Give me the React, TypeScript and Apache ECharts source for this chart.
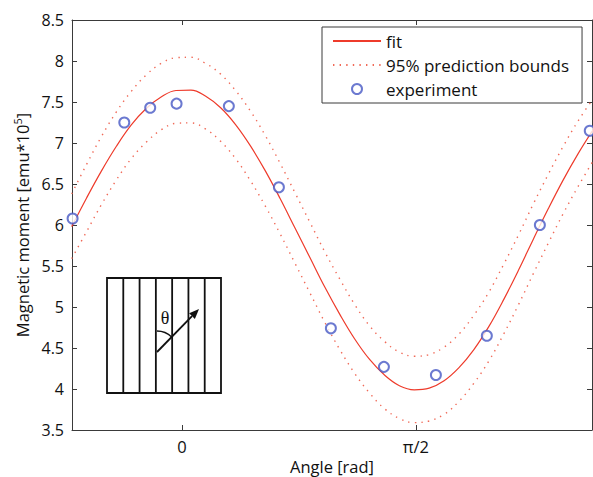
import React, { useEffect, useRef } from "react";
import * as echarts from "echarts";

// ---- data ----
const angleSamples = [
  -0.74, -0.64, -0.54, -0.44, -0.34, -0.24, -0.14, -0.04, 0.06, 0.16, 0.26, 0.36,
  0.46, 0.56, 0.66, 0.76, 0.86, 0.96, 1.06, 1.16, 1.26, 1.36, 1.46, 1.56, 1.66,
  1.76, 1.86, 1.96, 2.06, 2.16, 2.26, 2.36, 2.46, 2.56, 2.66, 2.76,
];
const fitValues = [
  5.98, 6.33, 6.66, 6.96, 7.22, 7.42, 7.56, 7.64, 7.645, 7.57, 7.43, 7.225,
  6.965, 6.66, 6.32, 5.96, 5.6, 5.24, 4.91, 4.61, 4.36, 4.17, 4.04, 3.99, 4.01,
  4.1, 4.26, 4.48, 4.76, 5.09, 5.45, 5.83, 6.2, 6.55, 6.87, 7.16,
];
const upperBound = [
  6.38, 6.74, 7.08, 7.38, 7.63, 7.83, 7.97, 8.04, 8.045, 7.97, 7.84, 7.64,
  7.39, 7.09, 6.75, 6.39, 6.03, 5.67, 5.34, 5.03, 4.77, 4.58, 4.45, 4.4, 4.42,
  4.51, 4.67, 4.9, 5.18, 5.52, 5.88, 6.26, 6.62, 6.96, 7.27, 7.54,
];
const lowerBound = [
  5.59, 5.92, 6.25, 6.55, 6.81, 7.01, 7.16, 7.24, 7.245, 7.17, 7.02, 6.81,
  6.54, 6.23, 5.89, 5.53, 5.17, 4.81, 4.48, 4.19, 3.95, 3.76, 3.64, 3.59, 3.61,
  3.69, 3.85, 4.07, 4.34, 4.67, 5.03, 5.41, 5.78, 6.14, 6.47, 6.78,
];
const expAngles = [-0.734, -0.387, -0.213, -0.036, 0.315, 0.651, 1.0, 1.356, 1.705, 2.047, 2.403, 2.738];
const expValues = [6.08, 7.25, 7.43, 7.48, 7.45, 6.46, 4.74, 4.27, 4.17, 4.65, 6.0, 7.15];

const xTickValues = [0, Math.PI / 2];
const xTickLabels = ["0", "π/2"];
const seriesNames = ["fit", "95% prediction bounds", "experiment"];

const FONT = "'Open Sans', 'Noto Sans', sans-serif";
const RED = "#ee3b2b";
const DOT_RED = "#f06a58";
const BLUE = "#4658c4";
const AXIS = "#3a3a3a";

const xLabelFor = (v: number) => {
  for (let i = 0; i < xTickValues.length; i++) {
    if (Math.abs(v - xTickValues[i]) < 1e-6) return xTickLabels[i];
  }
  return "";
};

export default function App() {
  const ref = useRef<HTMLDivElement>(null);
  useEffect(() => {
    if (!ref.current) return;
    const chart = echarts.init(ref.current, null, { renderer: "svg" });
    const pair = (xs: number[], ys: number[]) => xs.map((x, i) => [x, ys[i]]);

    const xMin = -0.738;
    const xMax = 2.753;

    // inset geometry
    const bx = 107, by = 278, bw = 114, bh = 115;
    const stripes = 7;
    const ox = 157, oy = 352, tx = 199, ty = 309;
    const dx = tx - ox, dy = ty - oy;
    const len = Math.sqrt(dx * dx + dy * dy);
    const ux = dx / len, uy = dy / len;
    const nx = -uy, ny = ux;
    const headL = 10, headW = 4;
    const baseX = tx - headL * ux, baseY = ty - headL * uy;

    const insetChildren: any[] = [
      {
        type: "rect",
        shape: { x: bx, y: by, width: bw, height: bh },
        style: { fill: "none", stroke: "#111", lineWidth: 1.8 },
      },
    ];
    for (let k = 1; k < stripes; k++) {
      const xx = bx + (bw * k) / stripes;
      insetChildren.push({
        type: "line",
        shape: { x1: xx, y1: by, x2: xx, y2: by + bh },
        style: { stroke: "#111", lineWidth: 1.8 },
      });
    }
    insetChildren.push(
      {
        type: "line",
        shape: { x1: ox, y1: oy, x2: baseX, y2: baseY },
        style: { stroke: "#111", lineWidth: 1.8 },
      },
      {
        type: "polygon",
        shape: {
          points: [
            [tx, ty],
            [baseX + headW * nx, baseY + headW * ny],
            [baseX - headW * nx, baseY - headW * ny],
          ],
        },
        style: { fill: "#111" },
      },
      {
        type: "arc",
        shape: { cx: ox, cy: oy, r: 21, startAngle: -Math.PI / 2, endAngle: Math.atan2(dy, dx), clockwise: true },
        style: { stroke: "#111", lineWidth: 1.4, fill: "none" },
      },
      {
        type: "text",
        x: 165,
        y: 318,
        style: {
          text: "θ",
          fontFamily: "'Liberation Serif', 'DejaVu Serif', serif",
          fontSize: 18,
          fill: "#111",
          align: "center",
          verticalAlign: "middle",
        },
      }
    );

    const baseAxisX = {
      type: "value",
      min: xMin,
      max: xMax,
      axisLine: { show: true, onZero: false, lineStyle: { color: AXIS, width: 1 } },
      splitLine: { show: false },
    };
    const baseAxisY = {
      type: "value",
      min: 3.5,
      max: 8.5,
      interval: 0.5,
      axisLine: { show: true, onZero: false, lineStyle: { color: AXIS, width: 1 } },
      splitLine: { show: false },
    };

    chart.setOption({
      animation: false,
      backgroundColor: "#fff",
      textStyle: { fontFamily: FONT },
      grid: { left: 72, top: 20, width: 520, height: 410, containLabel: false, outerBoundsMode: "none" },
      legend: {
        left: 322,
        top: 27,
        orient: "vertical",
        itemWidth: 48,
        itemHeight: 10,
        itemGap: 4,
        padding: [4, 13, 4, 10],
        borderColor: AXIS,
        borderWidth: 1,
        borderRadius: 0,
        backgroundColor: "#fff",
        textStyle: { fontSize: 17, lineHeight: 20, fontFamily: FONT, color: "#111" },
        data: [
          { name: seriesNames[0], itemStyle: { opacity: 0 } },
          { name: seriesNames[1], itemStyle: { opacity: 0 } },
          { name: seriesNames[2] },
        ],
      },
      xAxis: [
        {
          ...baseAxisX,
          position: "bottom",
          name: "Angle [rad]",
          nameLocation: "middle",
          nameGap: 27,
          nameMoveOverlap: false,
          nameTextStyle: { fontSize: 16.5, lineHeight: 18, fontFamily: FONT, color: "#111" },
          axisTick: { show: true, inside: true, length: 5, customValues: xTickValues, lineStyle: { color: AXIS } },
          axisLabel: {
            show: true,
            customValues: xTickValues,
            margin: 8,
            fontSize: 16.5,
            fontFamily: FONT,
            color: "#111",
            formatter: (v: number) => xLabelFor(v),
          },
        },
        {
          ...baseAxisX,
          position: "top",
          axisTick: { show: true, inside: true, length: 5, customValues: xTickValues, lineStyle: { color: AXIS } },
          axisLabel: { show: false },
        },
      ],
      yAxis: [
        {
          ...baseAxisY,
          position: "left",
          name: "Magnetic moment [emu*10{sup|5}]",
          nameLocation: "middle",
          nameGap: 39,
          nameMoveOverlap: false,
          nameTextStyle: {
            fontSize: 16.5,
            fontFamily: FONT,
            color: "#111",
            rich: { sup: { fontSize: 11, fontFamily: FONT, color: "#111", padding: [0, 0, 10, 0] } },
          },
          axisTick: { show: true, inside: true, length: 5, lineStyle: { color: AXIS } },
          axisLabel: { show: true, margin: 8, fontSize: 16, fontFamily: FONT, color: "#111" },
        },
        {
          ...baseAxisY,
          position: "right",
          axisTick: { show: true, inside: true, length: 5, lineStyle: { color: AXIS } },
          axisLabel: { show: false },
        },
      ],
      series: [
        {
          name: seriesNames[0],
          type: "line",
          data: pair(angleSamples, fitValues),
          smooth: 0.4,
          showSymbol: false,
          symbol: "none",
          clip: true,
          lineStyle: { color: RED, width: 1.2 },
          itemStyle: { color: RED },
          z: 3,
        },
        {
          name: seriesNames[1],
          type: "line",
          data: pair(angleSamples, upperBound),
          smooth: 0.4,
          showSymbol: false,
          symbol: "none",
          clip: true,
          lineStyle: { color: DOT_RED, width: 1.4, type: [1.4, 5.2] },
          itemStyle: { color: DOT_RED },
          z: 2,
        },
        {
          name: seriesNames[1],
          type: "line",
          data: pair(angleSamples, lowerBound),
          smooth: 0.4,
          showSymbol: false,
          symbol: "none",
          clip: true,
          lineStyle: { color: DOT_RED, width: 1.4, type: [1.4, 5.2] },
          itemStyle: { color: DOT_RED },
          z: 2,
        },
        {
          name: seriesNames[2],
          type: "scatter",
          data: pair(expAngles, expValues),
          symbol: "emptyCircle",
          symbolSize: 10,
          clip: false,
          itemStyle: { color: BLUE, borderWidth: 0.9 },
          z: 4,
        },
      ],
      graphic: [{ type: "group", children: insetChildren }],
    });
    return () => chart.dispose();
  }, []);
  return (
    <div
      ref={ref}
      style={{ position: "fixed", left: 0, top: 0, width: 593, height: 477, background: "#fff" }}
    />
  );
}
